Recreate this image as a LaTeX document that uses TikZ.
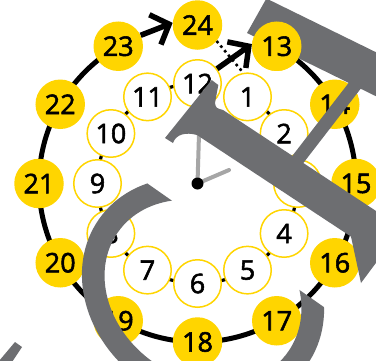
\documentclass[tikz,border=0pt]{standalone}
\usepackage{fontspec}
\newfontfamily\numfont[FakeBold=2]{Open Sans}
\usetikzlibrary{calc,arrows.meta}
\definecolor{clockyellow}{RGB}{255,213,0}
\definecolor{logogray}{RGB}{109,110,113}
\definecolor{handgray}{RGB}{166,166,166}
\begin{document}
\begin{tikzpicture}[x=1pt,y=-1pt,
  numtext/.style={font=\numfont\fontsize{27}{27}\selectfont},
  outerc/.style={circle,fill=clockyellow,minimum size=49.5pt,inner sep=0pt,numtext},
  innerc/.style={circle,draw=clockyellow,line width=1.5pt,fill=white,minimum size=47.5pt,inner sep=0pt,numtext},
  outerring/.style={line width=5pt,black},
  innerring/.style={line width=3.2pt,black},
  bigarrow/.style={line width=5.5pt,-{Straight Barb[length=15pt,width=32pt]}},
  dotline/.style={line width=2.6pt,dash pattern=on 2.6pt off 3.4pt},
  hand/.style={line width=4pt,handgray,line cap=round},
  logo/.style={fill=logogray}]
\useasboundingbox (0,0) rectangle (376,360);
\fill[white] (0,0) rectangle (376,360);
\clip (0,0) rectangle (376,360);
\coordinate (c) at (197.5,183.5);
% rings
\draw[outerring] ($(c)+(-60:158.5)$) arc[start angle=-60, end angle=240, radius=158.5];
\draw[innerring] ($(c)+(-60:100)$) arc[start angle=-60, end angle=270, radius=100];
% numbers
\foreach \n in {1,...,12}
  \node[innerc] (i\n) at ($(c)+({-90+30*\n}:100)$) {\n};
\foreach \n in {13,...,24}
  \node[outerc] (o\n) at ($(c)+({-90+30*(\n-12)}:158.5)$) {\n};
% connectors
\draw[dotline] (o24.-40) -- (i1.100);
\draw[bigarrow] (o23.26) -- (o24.175);
\draw[bigarrow] (i12.37) -- (o13.175);
% hands
\coordinate (mh) at (199,134);
\coordinate (hh) at (229,170);
\draw[hand] (c) -- (mh);
\draw[hand] (c) -- (hh);
\fill (c) circle[radius=6pt];
% overlay letters
\fill[logo] (247,33) -- (266.4,-1.5) -- (420,73.8) -- (420,117.8) -- cycle;
\fill[logo] (357.6,71.3) -- (368.4,78.7) -- (297.4,170.7) -- (286.6,163.3) -- cycle;
\fill[logo] (211.7,80) -- (218.3,85) -- (215,103) .. controls (216,108) .. (223,110)
  -- (410,233.4) -- (390,244) -- (361,283) -- (351,236.6) -- (197,135)
  .. controls (186,132) and (176,134) .. (173,143) -- (165,138) -- cycle;
\begin{scope}[shift={(203,292)}, rotate=-35]
  \clip (-200,-57) rectangle (200,250);
  \fill[logo, even odd rule] (0,0) ellipse [x radius=127pt, y radius=108pt]
    (0,0) ellipse [x radius=104pt, y radius=86pt];
\end{scope}
\fill[logo] (15,342) -- (22,347) -- (12,362) -- (-1,362) -- (-1,361) -- cycle;
% 13 sits in front of the logo
\node[outerc] (o13top) at (o13) {13};
\end{tikzpicture}
\end{document}
